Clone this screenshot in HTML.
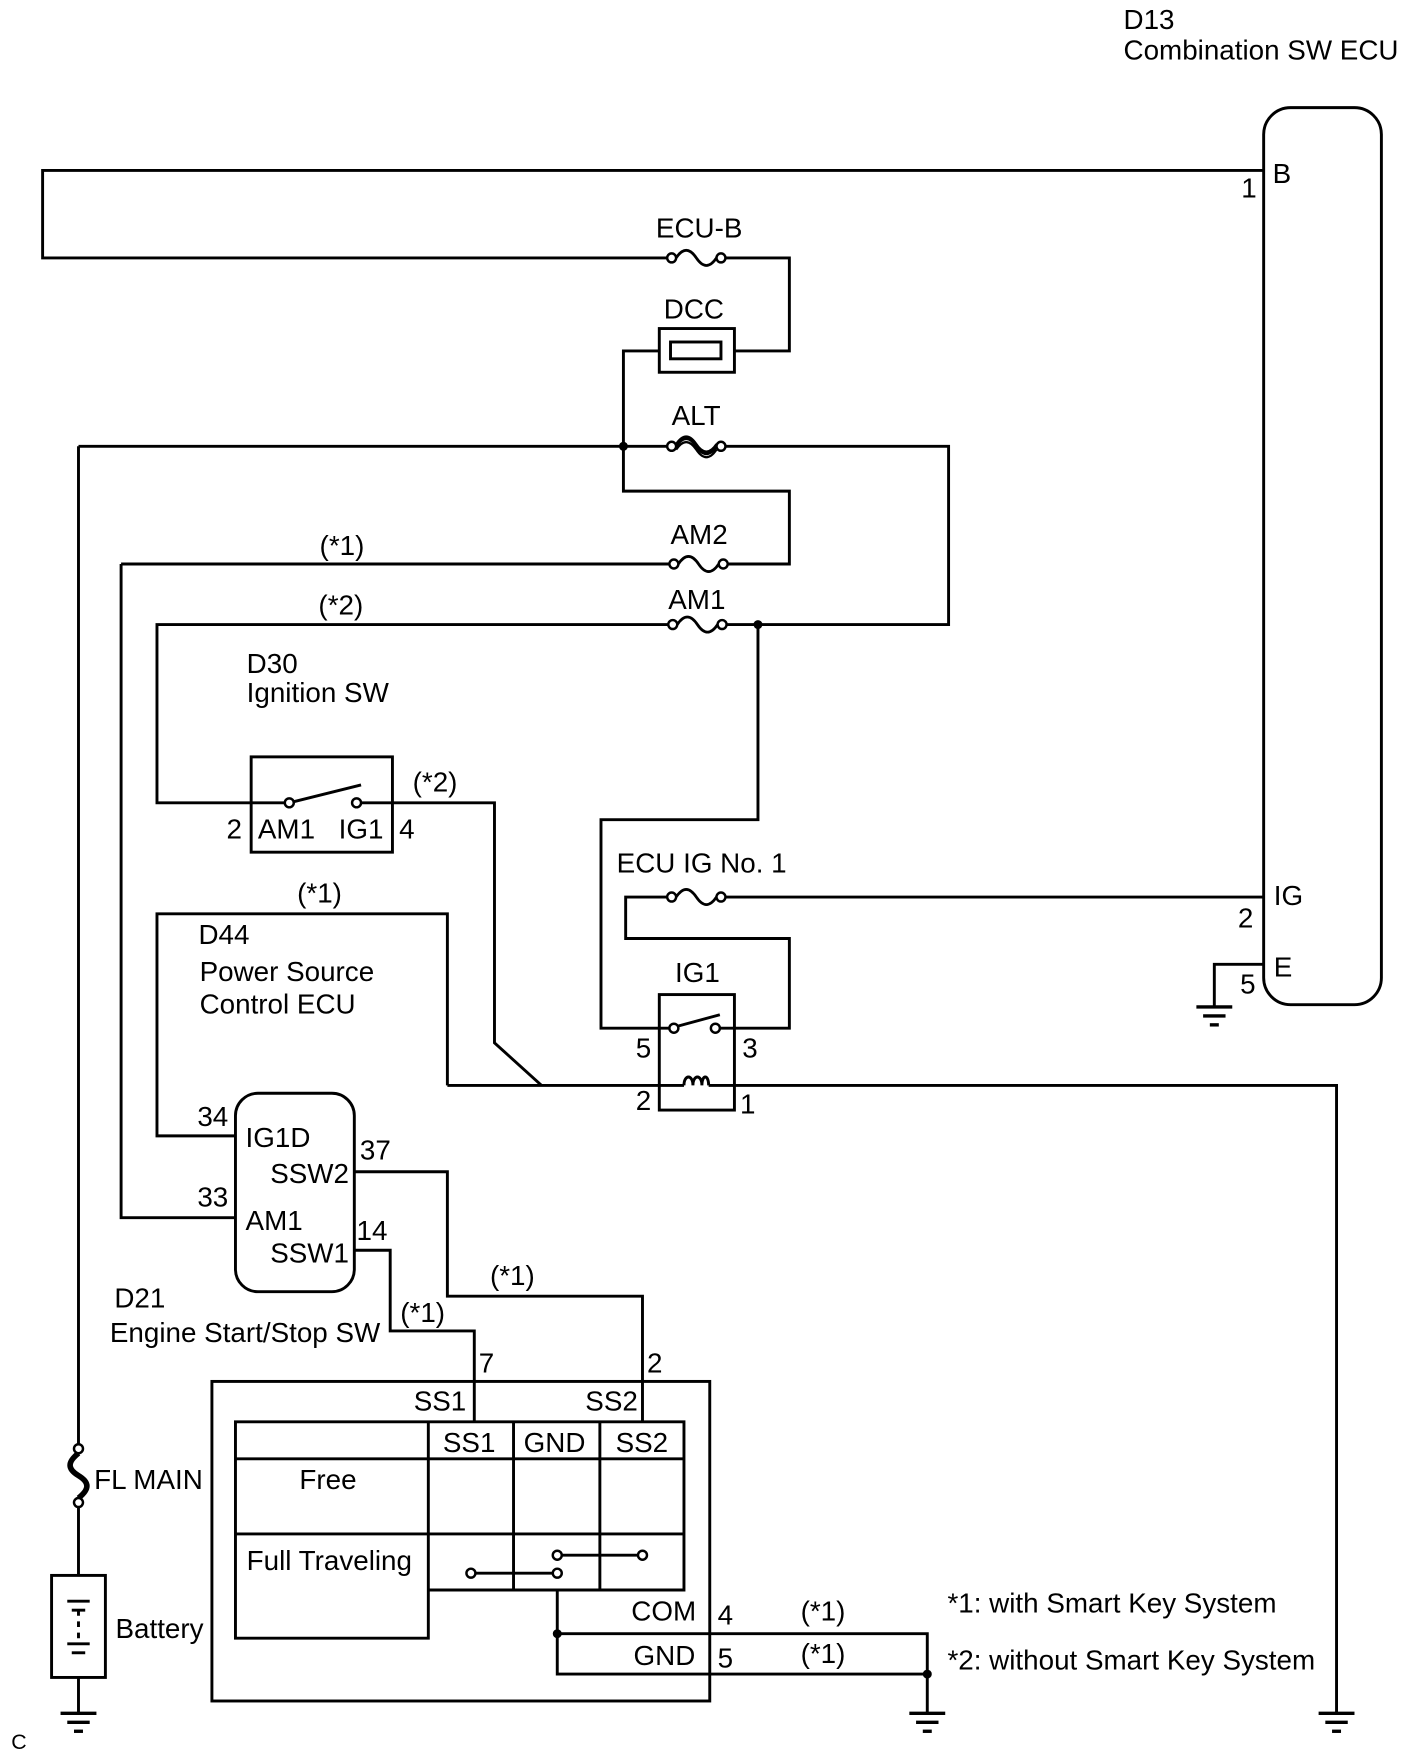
<!DOCTYPE html>
<html><head><meta charset="utf-8"><style>
html,body{margin:0;padding:0;background:#fff}
svg{display:block}
text{font-family:"Liberation Sans",Arial,sans-serif;font-size:24.8px;fill:#000}
</style></head><body>
<svg width="1424" height="1763" viewBox="0 0 1270 1572.3" preserveAspectRatio="none" xmlns="http://www.w3.org/2000/svg">
<defs>
<g id="gnd"><line x1="-16" y1="0" x2="16" y2="0" stroke="#000" stroke-width="3"/><line x1="-10" y1="8" x2="10" y2="8" stroke="#000" stroke-width="3"/><line x1="-4" y1="16" x2="4" y2="16" stroke="#000" stroke-width="3"/></g>
<g id="fuse"><circle cx="4" cy="0" r="4" fill="#fff" stroke="#000" stroke-width="2.2"/><circle cx="48" cy="0" r="4" fill="#fff" stroke="#000" stroke-width="2.2"/><path d="M8 0 c6 -9 12 -9 18 0 s12 9 18 0" fill="none" stroke="#000" stroke-width="2.5"/></g>
</defs>
<g fill="none" stroke="#000" stroke-width="2.6">
<rect x="1127" y="96" width="105" height="800" rx="24"/>
<polyline points="1127,152 38,152 38,230 595,230"/>
<polyline points="647,230 704,230 704,313 655,313"/>
<rect x="588" y="293" width="67" height="39"/>
<rect x="598" y="305" width="45" height="15"/>
<polyline points="588,313 556,313 556,438 704,438 704,503 648,503"/>
<line x1="108" y1="503" x2="597" y2="503"/>
<line x1="70" y1="398" x2="595" y2="398"/>
<polyline points="647,398 846,398 846,557 647,557"/>
<polyline points="596,557 140,557 140,716 224,716"/>
<polyline points="676,557 676,731 536,731 536,917 601,917"/>
<rect x="224" y="675" width="126" height="85"/>
<line x1="224" y1="716" x2="254" y2="716"/>
<line x1="262" y1="715" x2="322" y2="700"/>
<polyline points="322,716 441,716 441,930 483,968"/>
<line x1="647" y1="800" x2="1127" y2="800"/>
<polyline points="595,800 558,800 558,837 704,837 704,917 642,917"/>
<rect x="588" y="887" width="67" height="103"/>
<line x1="605" y1="915" x2="642" y2="905"/>
<polyline points="399,968 610,968"/>
<polyline points="632,968 1192,968 1192,1528"/>
<path d="M610 968 c0 -10 8 -10 8 0 c0 -10 8 -10 8 0 c0 -10 6 -10 6 0"/>
<polyline points="1127,860 1083,860 1083,897"/>
<polyline points="399,968 399,815 140,815 140,1013 210,1013"/>
<rect x="210" y="975" width="106" height="177" rx="20"/>
<polyline points="108,503 108,1086 210,1086"/>
<polyline points="316,1045 399,1045 399,1156 573,1156 573,1268"/>
<polyline points="316,1115 348,1115 348,1187 423,1187 423,1268"/>
<rect x="189" y="1232" width="444" height="285"/>
<polyline points="382,1418 610,1418 610,1268 210,1268 210,1461 382,1461 382,1268"/>
<line x1="210" y1="1301" x2="610" y2="1301"/>
<line x1="210" y1="1368" x2="610" y2="1368"/>
<line x1="458" y1="1268" x2="458" y2="1418"/>
<line x1="535" y1="1268" x2="535" y2="1418"/>
<line x1="424" y1="1403" x2="493" y2="1403"/>
<line x1="501" y1="1387" x2="569" y2="1387"/>
<polyline points="497,1418 497,1493 827,1493"/>
<polyline points="497,1457 827,1457 827,1528"/>
<line x1="70" y1="398" x2="70" y2="1288"/>
<path d="M70 1296 c-10 8 -10 14 0 20 s10 12 0 20" stroke-width="5"/>
<polyline points="70,1344 70,1405"/>
<rect x="46" y="1405" width="48" height="91"/>
<line x1="70" y1="1496" x2="70" y2="1528"/>
<line x1="60" y1="1428" x2="80" y2="1428"/>
<line x1="64" y1="1436" x2="76" y2="1436"/>
<line x1="70" y1="1436" x2="70" y2="1462" stroke-dasharray="5,5"/>
<line x1="60" y1="1466" x2="80" y2="1466"/>
<line x1="64" y1="1474" x2="76" y2="1474"/>
</g>
<g fill="#fff" stroke="#000" stroke-width="2.2">
<circle cx="258" cy="716" r="4"/><circle cx="318" cy="716" r="4"/>
<circle cx="601" cy="917" r="4"/><circle cx="638" cy="917" r="4"/>
<circle cx="420" cy="1403" r="4"/><circle cx="497" cy="1403" r="4"/>
<circle cx="497" cy="1387" r="4"/><circle cx="573" cy="1387" r="4"/>
<circle cx="70" cy="1292" r="4"/><circle cx="70" cy="1340" r="4"/>
</g>
<g fill="#000">
<circle cx="556" cy="398" r="4"/><circle cx="676" cy="557" r="4"/>
<circle cx="497" cy="1457" r="4"/><circle cx="827" cy="1493" r="4"/>
</g>
<use href="#fuse" x="595" y="230"/>
<use href="#fuse" x="595" y="398"/>
<path d="M603 396 c6 -9 12 -9 18 0 s12 9 18 0 M603 401 c6 -9 12 -9 18 0 s12 9 18 0" fill="none" stroke="#000" stroke-width="2"/>
<use href="#fuse" x="597" y="503"/>
<use href="#fuse" x="596" y="557"/>
<use href="#fuse" x="595" y="800"/>
<use href="#gnd" x="1083" y="898"/>
<use href="#gnd" x="1192" y="1528"/>
<use href="#gnd" x="827" y="1528"/>
<use href="#gnd" x="70" y="1528"/>
<text x="1002" y="26">D13</text>
<text x="1002" y="53">Combination SW ECU</text>
<text x="1135" y="163">B</text><text x="1107" y="176">1</text>
<text x="585" y="212">ECU-B</text>
<text x="592" y="284">DCC</text>
<text x="599" y="379">ALT</text>
<text x="285" y="495">(*1)</text><text x="598" y="485">AM2</text>
<text x="284" y="548">(*2)</text><text x="596" y="543">AM1</text>
<text x="220" y="600">D30</text><text x="220" y="626">Ignition SW</text>
<text x="368" y="706">(*2)</text>
<text x="202" y="748">2</text><text x="230" y="748">AM1</text><text x="302" y="748">IG1</text><text x="356" y="748">4</text>
<text x="550" y="778">ECU IG No. 1</text>
<text x="1136" y="807">IG</text><text x="1104" y="827">2</text>
<text x="1136" y="871">E</text><text x="1106" y="886">5</text>
<text x="602" y="876">IG1</text>
<text x="567" y="943">5</text><text x="662" y="943">3</text>
<text x="567" y="990">2</text><text x="660" y="993">1</text>
<text x="265" y="805">(*1)</text>
<text x="177" y="842">D44</text><text x="178" y="875">Power Source</text><text x="178" y="904">Control ECU</text>
<text x="176" y="1004">34</text><text x="219" y="1023">IG1D</text>
<text x="321" y="1034">37</text><text x="241" y="1055">SSW2</text>
<text x="176" y="1076">33</text><text x="219" y="1097">AM1</text>
<text x="318" y="1106">14</text><text x="241" y="1126">SSW1</text>
<text x="437" y="1146">(*1)</text><text x="357" y="1179">(*1)</text>
<text x="102" y="1166">D21</text><text x="98" y="1197">Engine Start/Stop SW</text>
<text x="427" y="1224">7</text><text x="577" y="1224">2</text>
<text x="369" y="1258">SS1</text><text x="522" y="1258">SS2</text>
<text x="395" y="1295">SS1</text><text x="467" y="1295">GND</text><text x="549" y="1295">SS2</text>
<text x="267" y="1328">Free</text><text x="220" y="1400">Full Traveling</text>
<text x="563" y="1445">COM</text><text x="640" y="1449">4</text>
<text x="565" y="1485">GND</text><text x="640" y="1487">5</text>
<text x="714" y="1445">(*1)</text><text x="714" y="1483">(*1)</text>
<text x="845" y="1438">*1: with Smart Key System</text>
<text x="845" y="1489">*2: without Smart Key System</text>
<text x="84" y="1328">FL MAIN</text>
<text x="103" y="1461">Battery</text>
<text x="10" y="1560" style="font-size:19px">C</text>
</svg>
</body></html>
